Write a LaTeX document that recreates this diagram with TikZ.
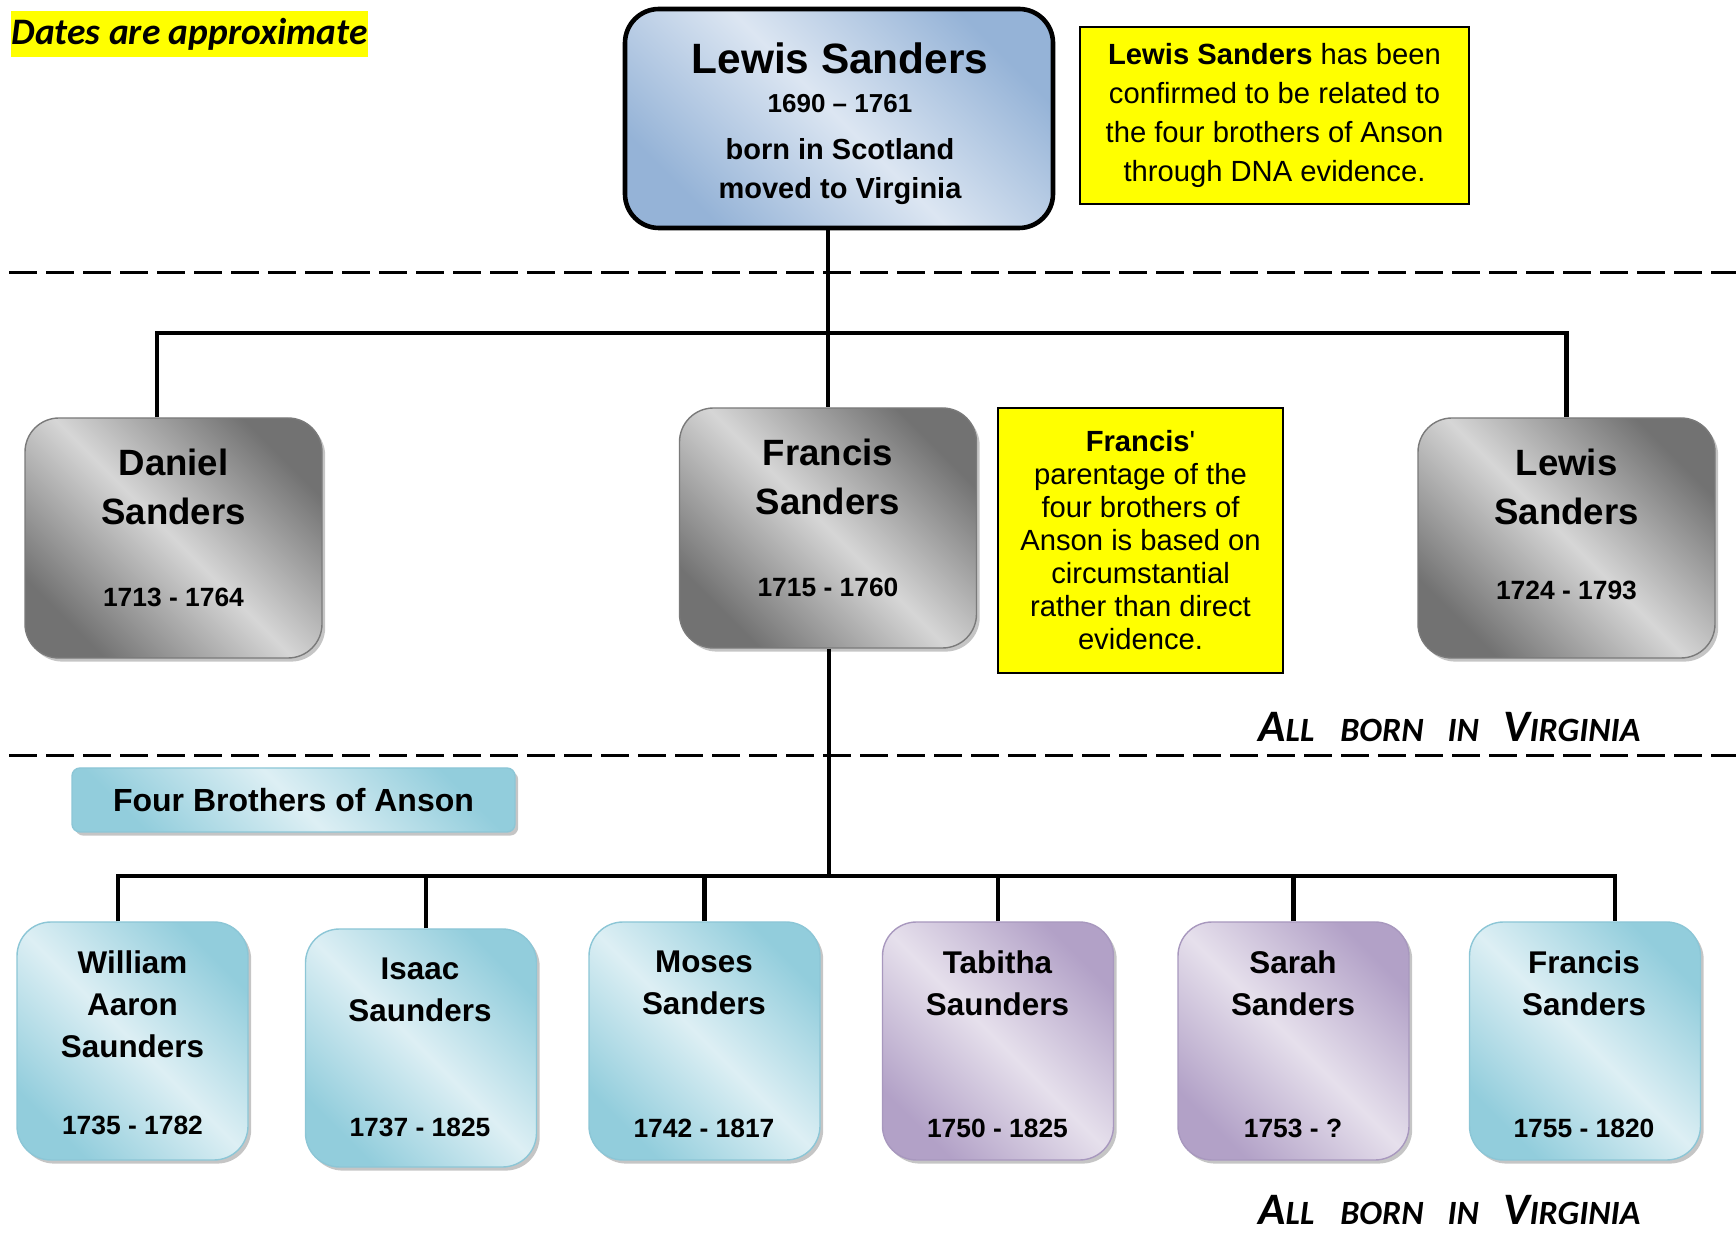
\documentclass[tikz,border=0pt]{standalone}
\usepackage{fontspec}
\setmainfont{Liberation Sans}
\newfontfamily\plainlib{Liberation Sans}
\newfontfamily\calib{Carlito}
\usetikzlibrary{shadows}
\definecolor{blueL}{HTML}{DCE6F2}
\definecolor{blueD}{HTML}{95B3D7}
\definecolor{grayL}{HTML}{D6D6D6}
\definecolor{grayD}{HTML}{727272}
\definecolor{grayB}{HTML}{7A7A7A}
\definecolor{cyanL}{HTML}{DDEFF4}
\definecolor{cyanD}{HTML}{92CDDC}
\definecolor{cyanB}{HTML}{8CC6D6}
\definecolor{purL}{HTML}{E6E0EC}
\definecolor{purD}{HTML}{B2A1C7}
\definecolor{purB}{HTML}{A898BE}
\definecolor{hl}{HTML}{FFFF00}
\newcommand\fs[2]{\fontsize{#1}{#2}\selectfont}
\newcommand\smc[2]{{\fs{22.5}{22.5}#1}{\fs{17}{17}#2}}
\begin{document}
\begin{tikzpicture}[x=0.5pt,y=-0.5pt,
  conn/.style={line width=2.2pt},
  sepline/.style={line width=1.5pt, dash pattern=on 14pt off 4.5pt},
  metal/.style 2 args={left color=#1, right color=#1, middle color=#2, shading angle=-45},
  shad/.style={drop shadow={shadow xshift=1.6pt, shadow yshift=-1.8pt, fill=black!45, opacity=0.5}},
  genB/.style={rounded corners=17pt, minimum width=148.5pt, minimum height=120pt, draw=grayB, line width=0.7pt, metal={grayD}{grayL}, shad},
  genC/.style={rounded corners=17pt, minimum width=115.5pt, minimum height=119pt, draw=#1B, line width=0.7pt, metal={#1D}{#1L}, shad},
  note/.style={draw=black, line width=1pt, fill=hl, align=center, inner sep=0pt},
  nameB/.style={font=\bfseries\fs{18.3}{24.5}, align=center, inner sep=0pt},
  nameC/.style={font=\bfseries\fs{15.7}{21}, align=center, inner sep=0pt},
  dateT/.style={font=\bfseries\fs{13.2}{15}, inner sep=0pt},
  vir/.style={font=\calib\bfseries\itshape, inner sep=0pt, anchor=base west}
]
\useasboundingbox (0,0) rectangle (1736,1234);

% separators
\draw[sepline] (9,273) -- (1736,273);
\draw[sepline] (9,756) -- (1736,756);

% labels
\node[fill=hl, minimum width=178.5pt, minimum height=23pt, inner sep=0pt, font=\calib\bfseries\itshape\fs{18.7}{18.7}] (dates) at (189.5,34) {Dates are approximate};

% top box
\node[rounded corners=17pt, minimum width=214pt, minimum height=109.5pt, draw=black, line width=2.3pt, metal={blueD}{blueL}] (top) at (839,118.5) {};
\node[font=\bfseries\fs{21.2}{24}, inner sep=0pt] (topN) at (840,58) {Lewis Sanders};
\node[font=\bfseries\fs{13}{15}, inner sep=0pt] (topD) at (840,104) {1690 – 1761};
\node[font=\bfseries\fs{14.5}{19.5}, align=center, inner sep=0pt] (topT) at (840,172) {born in Scotland\\moved to Virginia};

% note 1
\node[note, minimum width=194.5pt, minimum height=88.5pt, font=\fs{14.6}{19.5}] (note1) at (1274.5,115.5) {\textbf{Lewis Sanders} has been\\confirmed to be related to\\the four brothers of Anson\\through DNA evidence.};

% generation 2
\coordinate (j1) at (829,333);
\node[genB] (dan) at (173.5,538) {};
\node[genB] (fr) at (828,528) {};
\node[genB] (lew) at (1566.5,538) {};
\draw[conn] (top.south -| fr.north) -- (fr.north);
\draw[conn] ([xshift=-8.25pt]dan.north) |- (j1) -| (lew.north);

\node[nameB] (danN) at (173.5,487) {Daniel\\Sanders};
\node[dateT] (danD) at (173.5,597) {1713 - 1764};
\node[nameB] (frN) at (828,477) {Francis\\Sanders};
\node[dateT] (frD) at (828,587) {1715 - 1760};
\node[nameB] (lewN) at (1566.5,487) {Lewis\\Sanders};
\node[dateT] (lewD) at (1566.5,590) {1724 - 1793};

% note 2
\node[note, minimum width=142.5pt, minimum height=132.5pt, font=\fs{14.6}{16.5}] (note2) at (1140.5,540.5) {\textbf{Francis}{\plainlib'}\\parentage of the\\four brothers of\\Anson is based on\\circumstantial\\rather than direct\\evidence.};

\node[vir] (vir1) at (1258,742) {\smc{A}{LL}\hspace{13pt}\smc{}{BORN}\hspace{12pt}\smc{}{IN}\hspace{12pt}\smc{V}{IRGINIA}};

% four brothers label
\node[rounded corners=4pt, minimum width=221.5pt, minimum height=32pt, draw=cyanB, line width=0.7pt, metal={cyanD}{cyanL}, shad, font=\bfseries\fs{16}{18}] (four) at (293.5,800) {Four Brothers of Anson};

% generation 3
\coordinate (j2) at (829,876);
\node[genC=cyan] (wil) at (132.5,1041) {};
\node[genC=cyan] (isa) at (421,1048) {};
\node[genC=cyan] (mos) at (704.5,1041) {};
\node[genC=pur] (tab) at (998,1041) {};
\node[genC=pur] (sar) at (1293.5,1041) {};
\node[genC=cyan] (fra) at (1585,1041) {};

\draw[conn] (fr.south -| j2) -- (j2);
\draw[conn] ([xshift=-7.25pt]wil.north) |- (j2) -| ([xshift=15pt]fra.north);
\draw[conn] ([xshift=2.5pt]isa.north) -- ([xshift=2.5pt]isa.north |- j2);
\draw[conn] (mos.north) -- (mos.north |- j2);
\draw[conn] (tab.north) -- (tab.north |- j2);
\draw[conn] (sar.north) -- (sar.north |- j2);

\node[nameC] (wilN) at (132.5,1004) {William\\Aaron\\Saunders};
\node[dateT] (wilD) at (132.5,1125) {1735 - 1782};
\node[nameC] (isaN) at (420,990) {Isaac\\Saunders};
\node[dateT] (isaD) at (420,1127) {1737 - 1825};
\node[nameC] (mosN) at (704,983) {Moses\\Sanders};
\node[dateT] (mosD) at (704,1128) {1742 - 1817};
\node[nameC] (tabN) at (997.5,983) {Tabitha\\Saunders};
\node[dateT] (tabD) at (997.5,1128) {1750 - 1825};
\node[nameC] (sarN) at (1293,983) {Sarah\\Sanders};
\node[dateT] (sarD) at (1293,1128) {1753 - ?};
\node[nameC] (fraN) at (1584,983) {Francis\\Sanders};
\node[dateT] (fraD) at (1584,1128) {1755 - 1820};

\node[vir] (vir2) at (1258,1224) {\smc{A}{LL}\hspace{13pt}\smc{}{BORN}\hspace{12pt}\smc{}{IN}\hspace{12pt}\smc{V}{IRGINIA}};
\end{tikzpicture}
\end{document}
